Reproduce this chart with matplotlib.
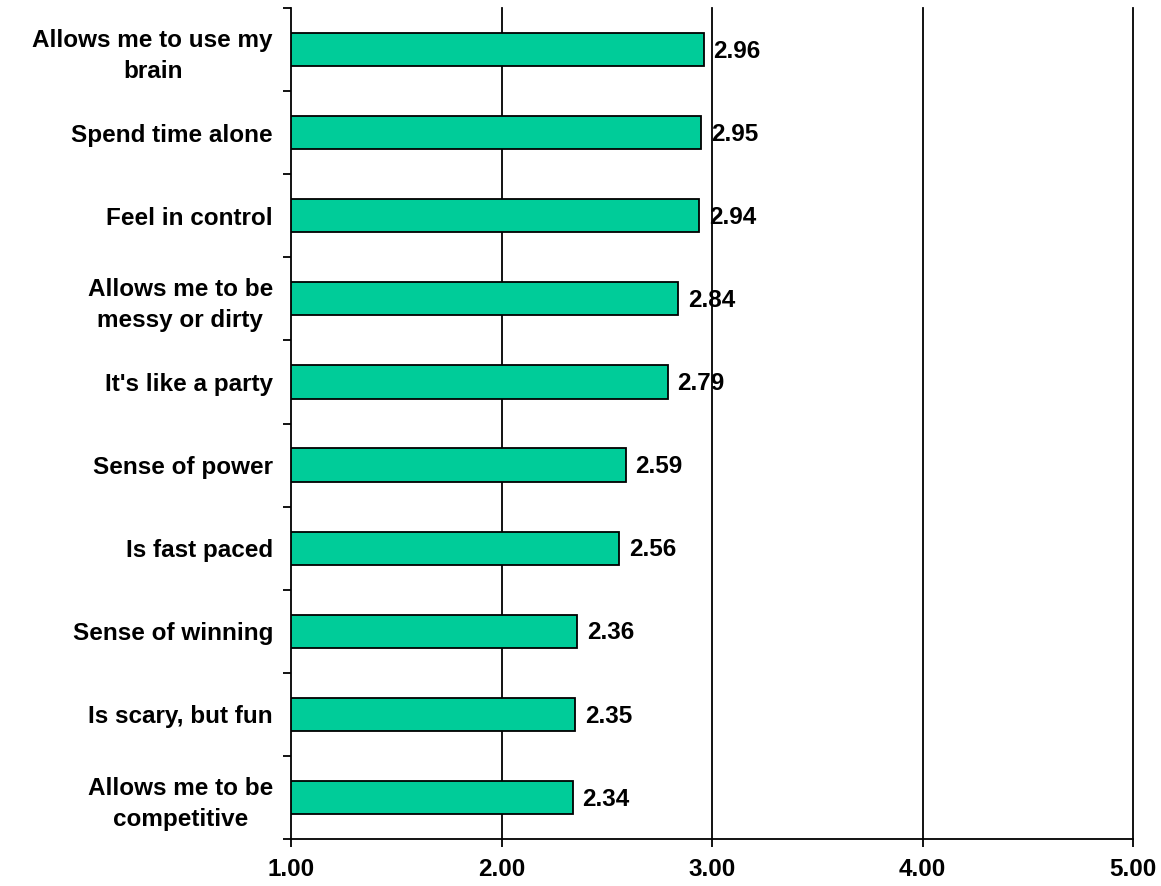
import matplotlib
matplotlib.use("Agg")
import matplotlib.pyplot as plt
import numpy as np

# Mean agreement scores (1-5 scale) for each reason
categories = [
    "Allows me to use my\nbrain",
    "Spend time alone",
    "Feel in control",
    "Allows me to be\nmessy or dirty",
    "It's like a party",
    "Sense of power",
    "Is fast paced",
    "Sense of winning",
    "Is scary, but fun",
    "Allows me to be\ncompetitive",
]
scores = [2.96, 2.95, 2.94, 2.84, 2.79, 2.59, 2.56, 2.36, 2.35, 2.34]
x_ticks = [1.0, 2.0, 3.0, 4.0, 5.0]
x_tick_labels = ["1.00", "2.00", "3.00", "4.00", "5.00"]

plt.rcParams["font.family"] = ["Liberation Sans", "DejaVu Sans"]
plt.rcParams["font.weight"] = "bold"

FS = 17.5

fig = plt.figure(figsize=(11.61, 8.86), dpi=100)
ax = fig.add_axes([291 / 1161, 1 - 839 / 886, (1133 - 291) / 1161, (839 - 8) / 886])

base = x_ticks[0]
ypos = np.arange(len(categories))
widths = [s - base for s in scores]
ax.barh(ypos, widths, left=base, height=0.4, color="#00CC99",
        edgecolor="black", linewidth=1.3, zorder=3)

for y, s in zip(ypos, scores):
    ax.text(s + 0.045, y + 0.02, f"{s:.2f}", va="center", ha="left",
            fontsize=FS, fontweight="bold", zorder=4)

# vertical reference lines
for xv in x_ticks[1:]:
    ax.axvline(xv, color="black", linewidth=1.3, zorder=1, clip_on=False)

ax.set_xlim(x_ticks[0], x_ticks[-1])
ax.set_ylim(len(categories) - 0.5, -0.5)

ax.set_xticks(x_ticks)
ax.set_xticklabels(x_tick_labels, fontsize=FS, fontweight="bold")
ax.tick_params(axis="x", direction="out", length=6, width=1.3, pad=8)

ax.set_yticks(ypos)
ax.set_yticklabels(categories, fontsize=FS, fontweight="bold",
                   multialignment="center", linespacing=1.45)
ax.set_yticks(np.arange(-0.5, len(categories) + 0.5, 1.0), minor=True)
ax.tick_params(axis="y", which="major", length=0, pad=13)
ax.tick_params(axis="y", which="minor", direction="out", length=6, width=1.3)

for side in ("top", "right"):
    ax.spines[side].set_visible(False)
for side in ("left", "bottom"):
    ax.spines[side].set_linewidth(1.3)

fig.savefig("out.png", dpi=100)
